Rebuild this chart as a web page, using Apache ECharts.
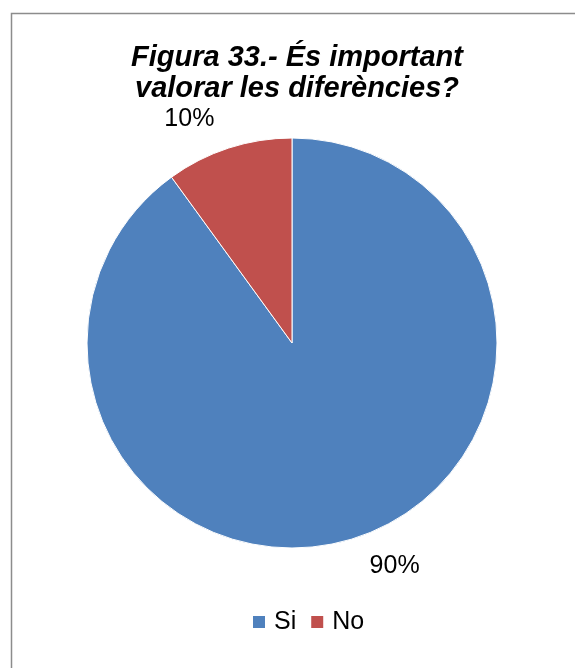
<!DOCTYPE html>
<html><head><meta charset="utf-8">
<script src="https://cdn.jsdelivr.net/npm/echarts@6/dist/echarts.min.js"></script>
<style>html,body{margin:0;padding:0;background:#fff}#c{width:575px;height:668px}</style>
</head><body><div id="c"></div>
<script>
const categories = ['Si', 'No'];
const values = [90, 10];
const colors = ['#4F81BD', '#C0504D'];
const titleText = 'Figura 33.- És important\nvalorar les diferències?';

const chart = echarts.init(document.getElementById('c'), null, {renderer: 'canvas'});
chart.setOption({
  backgroundColor: '#fff',
  animation: false,
  graphic: [{
    type: 'rect', shape: {x: 11.5, y: 13.5, width: 700, height: 800},
    style: {fill: 'none', stroke: '#8c8c8c', lineWidth: 1.5}, z: -1
  }],
  title: {
    text: titleText, left: 292, top: 37, textAlign: 'center',
    textStyle: {fontFamily: 'Liberation Sans', fontSize: 29, fontWeight: 'bold', fontStyle: 'italic', color: '#000', lineHeight: 31}
  },
  legend: {
    data: categories, top: 604, left: 246, itemWidth: 14, itemHeight: 14, itemGap: 13,
    icon: 'rect',
    textStyle: {fontFamily: 'Liberation Sans', fontSize: 25, color: '#000', lineHeight: 26, padding: [0, 0, 0, 3]}
  },
  series: [{
    type: 'pie', center: [292, 343], radius: 205, startAngle: 90, clockwise: true,
    color: colors,
    itemStyle: {borderColor: '#fff', borderWidth: 1},
    label: {show: true, position: 'outside', formatter: '{d}%', fontFamily: 'Liberation Sans', fontSize: 25, color: '#000'},
    labelLine: {show: false, length: 30, length2: 0},
    emphasis: {disabled: true},
    data: categories.map((c, i) => ({name: c, value: values[i]}))
  }]
});
</script></body></html>
